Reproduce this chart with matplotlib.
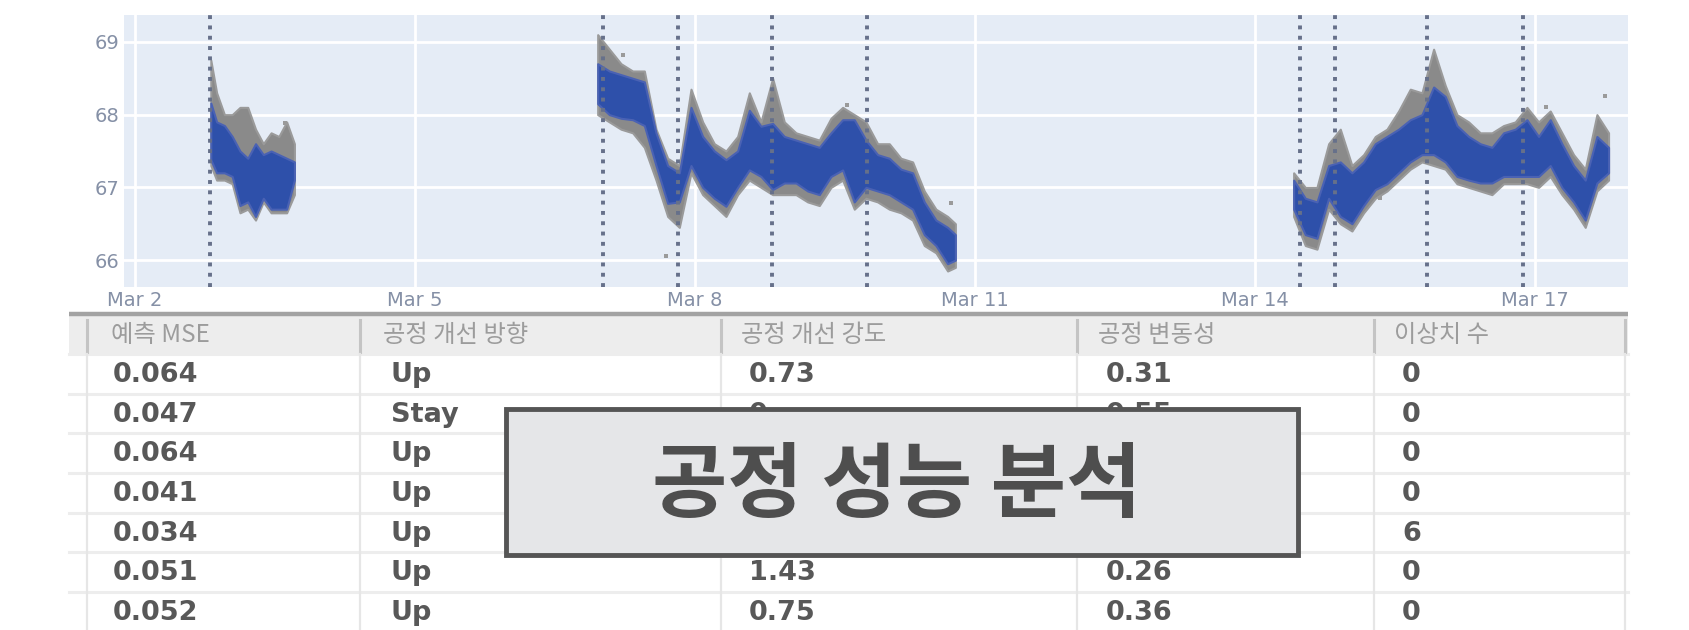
import numpy as np
import pandas as pd
import matplotlib
matplotlib.use("Agg")
import matplotlib.pyplot as plt
from matplotlib.patches import Rectangle

# ---------------- data ----------------
BASE = pd.Timestamp("2024-03-02 00:00")   # hours below are counted from Mar 2 00:00

seg1_hours   = [19.5, 21, 23, 25, 27, 29, 31, 33, 35, 37, 39, 41]
seg1_blue_lo = [67.38, 67.20, 67.20, 67.15, 66.75, 66.80, 66.60, 66.85, 66.70, 66.70, 66.70, 67.10]
seg1_blue_hi = [68.16, 67.90, 67.85, 67.70, 67.50, 67.40, 67.60, 67.45, 67.50, 67.45, 67.40, 67.35]
seg1_gray_lo = [67.30, 67.10, 67.10, 67.05, 66.65, 66.70, 66.55, 66.80, 66.65, 66.65, 66.65, 66.90]
seg1_gray_hi = [68.75, 68.30, 68.00, 68.00, 68.10, 68.10, 67.80, 67.60, 67.75, 67.70, 67.90, 67.60]

seg2_hours   = [119, 122, 125, 128, 131, 134, 137, 140, 143, 146, 149, 152, 155, 158, 161, 164,
                167, 170, 173, 176, 179, 182, 185, 188, 191, 194, 197, 200, 203, 206, 209, 211]
seg2_blue_lo = [68.15, 68.00, 67.95, 67.93, 67.85, 67.30, 66.78, 66.80, 67.30, 67.00, 66.85, 66.74,
                67.00, 67.24, 67.15, 66.97, 67.06, 67.06, 66.95, 66.90, 67.15, 67.24, 66.80, 67.00,
                66.95, 66.90, 66.80, 66.70, 66.35, 66.20, 65.95, 66.00]
seg2_blue_hi = [68.70, 68.60, 68.55, 68.50, 68.45, 67.75, 67.30, 67.20, 68.10, 67.70, 67.50, 67.38,
                67.50, 68.06, 67.84, 67.88, 67.70, 67.65, 67.60, 67.55, 67.75, 67.93, 67.93, 67.65,
                67.45, 67.40, 67.25, 67.20, 66.80, 66.55, 66.45, 66.35]
seg2_gray_lo = [68.00, 67.90, 67.80, 67.75, 67.55, 67.10, 66.60, 66.45, 67.20, 66.90, 66.75, 66.60,
                66.90, 67.10, 67.00, 66.90, 66.90, 66.90, 66.80, 66.75, 67.00, 67.10, 66.70, 66.85,
                66.80, 66.70, 66.65, 66.55, 66.20, 66.10, 65.85, 65.90]
seg2_gray_hi = [69.10, 68.90, 68.70, 68.60, 68.60, 67.80, 67.40, 67.30, 68.35, 67.90, 67.60, 67.50,
                67.70, 68.30, 67.90, 68.50, 67.90, 67.75, 67.70, 67.65, 67.95, 68.10, 68.00, 67.90,
                67.60, 67.60, 67.40, 67.35, 66.95, 66.70, 66.60, 66.50]

seg3_hours   = [298, 301, 304, 307, 310, 313, 316, 319, 322, 325, 328, 331, 334, 337, 340, 343,
                346, 349, 352, 355, 358, 361, 364, 367, 370, 373, 376, 379]
seg3_blue_lo = [66.70, 66.35, 66.30, 66.85, 66.60, 66.50, 66.75, 66.97, 67.05, 67.20, 67.35, 67.45,
                67.45, 67.35, 67.15, 67.10, 67.06, 67.06, 67.15, 67.15, 67.15, 67.15, 67.30, 67.00,
                66.80, 66.55, 67.06, 67.20]
seg3_blue_hi = [67.10, 66.85, 66.80, 67.30, 67.35, 67.20, 67.35, 67.60, 67.70, 67.80, 67.93, 68.00,
                68.38, 68.25, 67.85, 67.70, 67.60, 67.55, 67.75, 67.80, 67.93, 67.70, 67.93, 67.60,
                67.30, 67.10, 67.70, 67.55]
seg3_gray_lo = [66.60, 66.20, 66.15, 66.70, 66.50, 66.40, 66.65, 66.85, 66.95, 67.10, 67.25, 67.35,
                67.30, 67.25, 67.05, 67.00, 66.95, 66.90, 67.05, 67.05, 67.05, 67.00, 67.15, 66.90,
                66.70, 66.45, 66.95, 67.10]
seg3_gray_hi = [67.20, 67.00, 67.00, 67.60, 67.80, 67.30, 67.45, 67.70, 67.80, 68.05, 68.35, 68.30,
                68.90, 68.40, 68.00, 67.90, 67.75, 67.75, 67.85, 67.90, 68.10, 67.90, 68.05, 67.75,
                67.45, 67.25, 68.00, 67.75]

outlier_hours  = [38.6, 125.6, 136.7, 183.0, 210.0, 320.2, 363.0, 378.1]
outlier_values = [67.88, 68.82, 66.06, 68.13, 66.78, 66.85, 68.10, 68.26]

event_hours = [19.3, 120.4, 139.7, 163.9, 188.3, 299.6, 308.6, 332.3, 357.0]

xtick_days   = [0, 3, 6, 9, 12, 15]
xtick_labels = ["Mar 2", "Mar 5", "Mar 8", "Mar 11", "Mar 14", "Mar 17"]
ytick_values = [66, 67, 68, 69]

table_header = ["예측 MSE", "공정 개선 방향", "공정 개선 강도", "공정 변동성", "이상치 수"]
col_mse       = ["0.064", "0.047", "0.064", "0.041", "0.034", "0.051", "0.052"]
col_direction = ["Up", "Stay", "Up", "Up", "Up", "Up", "Up"]
# cells fully hidden behind the title box are None (not readable in the reference)
col_strength  = ["0.73", "0", None, None, None, "1.43", "0.75"]
col_variation = ["0.31", "0.55", None, None, None, "0.26", "0.36"]
col_outliers  = ["0", "0", "0", "0", "6", "0", "0"]

title_text = "공정 성능 분석"

# ---------------- figure ----------------
W, H = 1689, 630
fig = plt.figure(figsize=(W / 100, H / 100), dpi=100)
fig.patch.set_facecolor("white")

def to_time(hours):
    return BASE + pd.to_timedelta(np.asarray(hours, dtype=float), unit="h")

ax = fig.add_axes([124 / W, 1 - 287 / H, 1504 / W, 272 / H])
ax.set_facecolor("#e5ecf6")
for s in ax.spines.values():
    s.set_visible(False)

segments = [
    (seg1_hours, seg1_blue_lo, seg1_blue_hi, seg1_gray_lo, seg1_gray_hi),
    (seg2_hours, seg2_blue_lo, seg2_blue_hi, seg2_gray_lo, seg2_gray_hi),
    (seg3_hours, seg3_blue_lo, seg3_blue_hi, seg3_gray_lo, seg3_gray_hi),
]
for hrs, blo, bhi, glo, ghi in segments:
    t = to_time(hrs)
    ax.fill_between(t, glo, ghi, color="#8a8a8a", lw=1.5, edgecolor="#9a9a9a", zorder=2)
    ax.fill_between(t, blo, bhi, color="#2e50aa", lw=1.5, edgecolor="#4a62b4", zorder=3)

ax.scatter(to_time(outlier_hours), outlier_values, marker="s", s=10, color="#9a9a9a",
           lw=0, zorder=2)

for h in event_hours:
    ax.axvline(to_time([h])[0], color="#66708a", lw=2.8, ls=":", zorder=4)

ax.set_xlim(to_time([-2.83])[0], to_time([384.0])[0])
ax.set_ylim(65.63, 69.37)
ax.set_xticks(to_time(np.array(xtick_days) * 24.0))
ax.set_xticklabels(xtick_labels)
ax.set_yticks(ytick_values)
ax.set_yticklabels([str(v) for v in ytick_values])
ax.tick_params(length=0, colors="#8590a6", labelsize=14)
ax.tick_params(axis="x", pad=3)
ax.tick_params(axis="y", pad=3)
ax.grid(True, color="white", lw=2)
ax.set_axisbelow(True)

# ---------------- table + overlay (pixel coordinates) ----------------
ov = fig.add_axes([0, 0, 1, 1])
ov.set_xlim(0, W)
ov.set_ylim(H, 0)
ov.axis("off")

col_edges = [87, 360, 721, 1077, 1374, 1625]
text_x_body = [113, 391, 749, 1106, 1402]
text_x_head = [111, 383, 741, 1098, 1394]
head_top, head_bot = 316, 354
row_h = 39.67

# header band
ov.add_patch(Rectangle((69, head_top), 1628 - 69, head_bot - head_top, color="#ededed", lw=0, zorder=1))
ov.plot([69, 1628], [314, 314], color="#a3a3a3", lw=3.2, solid_capstyle="butt", zorder=3)
for x in col_edges:
    ov.plot([x, x], [head_top + 4, head_bot - 2], color="#c4c4c4", lw=2.2, zorder=2)
    ov.plot([x, x], [head_bot, H], color="#e6e6e6", lw=1.6, zorder=2)

for j, lab in enumerate(table_header):
    ov.text(text_x_head[j], (head_top + head_bot) / 2, lab, ha="left", va="center",
            fontsize=17.5, color="#9c9c9c", family=["Noto Sans CJK KR", "DejaVu Sans"], zorder=3)

columns = [col_mse, col_direction, col_strength, col_variation, col_outliers]
n_rows = len(col_mse)
for i in range(n_rows):
    y0 = head_bot + i * row_h
    ov.plot([69, 1628], [y0, y0], color="#ededed", lw=2.2, zorder=1)
    for j, col in enumerate(columns):
        if col[i] is None:
            continue
        ov.text(text_x_body[j], y0 + row_h / 2 + 1, col[i], ha="left", va="center",
                fontsize=19.5, fontweight="bold", color="#585858", family="DejaVu Sans", zorder=3)

# overlay title box
ov.add_patch(Rectangle((506, 409), 1298 - 506, 555 - 409, facecolor="#e5e6e8",
                       edgecolor="#555555", lw=3.5, zorder=10))
ov.text(897, 487, title_text, ha="center", va="center", fontsize=59, fontweight="bold",
        color="#4e4e4e", family=["Noto Sans CJK KR", "DejaVu Sans"], zorder=11)

fig.savefig("out.png", dpi=100)
